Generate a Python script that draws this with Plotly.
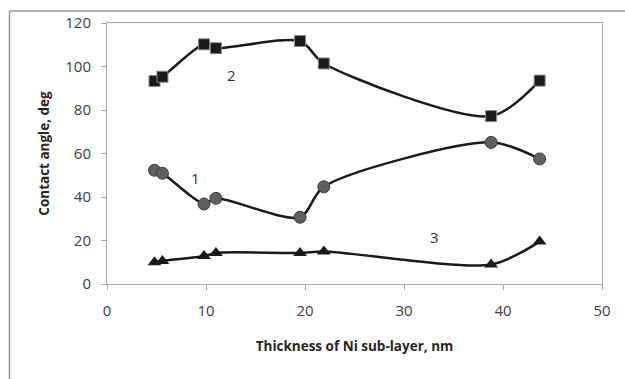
import plotly.graph_objects as go

x_vals = [4.8, 5.6, 9.8, 11.0, 19.5, 21.9, 38.8, 43.7]
y_series1 = [52.3, 50.9, 36.8, 39.4, 30.7, 44.7, 65.1, 57.5]
y_series2 = [93.3, 95.3, 110.2, 108.4, 111.7, 101.4, 77.2, 93.5]
y_series3 = [10.0, 10.6, 12.9, 14.3, 14.3, 15.0, 9.0, 19.5]
series_labels = ["1", "2", "3"]
label_x = [8.9, 12.6, 33.1]
label_y = [48.7, 96.0, 21.5]
x_ticks = [0, 10, 20, 30, 40, 50]
y_ticks = [0, 20, 40, 60, 80, 100, 120]

fig = go.Figure()
fig.add_trace(go.Scatter(x=x_vals, y=y_series2, mode="lines+markers",
    line=dict(color="#1a1a1a", width=2.5, shape="spline", smoothing=0.8),
    marker=dict(symbol="square", size=11, color="#1a1a1a", line=dict(color="#888888", width=1))))
fig.add_trace(go.Scatter(x=x_vals, y=y_series1, mode="lines+markers",
    line=dict(color="#1a1a1a", width=2.5, shape="spline", smoothing=0.8),
    marker=dict(symbol="circle", size=12, color="#5f5f5f", line=dict(color="#3a3a3a", width=1))))
fig.add_trace(go.Scatter(x=x_vals, y=y_series3, mode="lines+markers",
    line=dict(color="#1a1a1a", width=2.5, shape="spline", smoothing=0.8),
    marker=dict(symbol="triangle-up", size=12, color="#1a1a1a", line=dict(color="#1a1a1a", width=0))))

for t, lx, ly in zip(series_labels, label_x, label_y):
    fig.add_annotation(x=lx, y=ly, text=t, showarrow=False,
                       font=dict(family="Open Sans", size=15, color="#333333"))

axis_common = dict(showgrid=False, zeroline=False, showline=True, linecolor="#a6a6a6",
                   linewidth=1, mirror=True, ticks="outside", ticklen=5, tickcolor="#a6a6a6",
                   tickfont=dict(family="Open Sans", size=15, color="#404040"))
fig.update_xaxes(range=[0, 50], tickvals=x_ticks,
                 title=dict(text="<b>Thickness of Ni sub-layer, nm</b>", standoff=22,
                            font=dict(family="Open Sans", size=13.5, color="#262626")),
                 ticklabelstandoff=8, **axis_common)
fig.update_yaxes(range=[0, 120], tickvals=y_ticks,
                 title=dict(text="<b>Contact angle, deg</b>", standoff=12,
                            font=dict(family="Open Sans", size=13.5, color="#262626")),
                 ticklabelstandoff=7, **axis_common)

fig.add_shape(type="line", xref="paper", yref="paper", x0=-0.197, x1=1.2, y0=1.046, y1=1.046,
              line=dict(color="#999999", width=1.5))
fig.add_shape(type="line", xref="paper", yref="paper", x0=-0.197, x1=-0.197, y0=1.046, y1=-0.5,
              line=dict(color="#999999", width=1.5))

fig.update_layout(width=625, height=379, margin=dict(l=107, r=23, t=23, b=95),
                  paper_bgcolor="white", plot_bgcolor="white", showlegend=False)
fig.write_html("out.html")
